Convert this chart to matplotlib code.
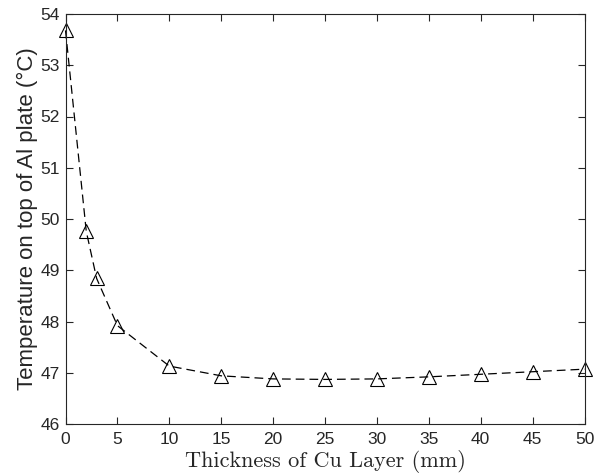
import matplotlib.pyplot as plt
plt.switch_backend('agg')

import numpy as np

# Cu layer thickness (mm) and resulting plate-top temperature (deg C)
thickness = [0, 2, 3, 5, 10, 15, 20, 25, 30, 35, 40, 45, 50]
temperature = [53.68, 49.76, 48.84, 47.92, 47.13, 46.94, 46.88,
               46.87, 46.88, 46.92, 46.97, 47.02, 47.07]

x_ticks = list(range(0, 51, 5))
y_ticks = list(range(46, 55))

axis_color = '#262626'

fig = plt.figure(figsize=(6.03, 4.76), dpi=100)
ax = fig.add_axes([65.5 / 603, 52 / 476, 519 / 603, 410 / 476])

ax.plot(thickness, temperature, 'k--', lw=0.9, dashes=(7, 4),
        marker='^', markersize=10.5, markerfacecolor='none',
        markeredgecolor='k', markeredgewidth=0.8, clip_on=False)

ax.set_xlim(0, 50)
ax.set_ylim(46, 54)
ax.set_xticks(x_ticks)
ax.set_yticks(y_ticks)

for side in ax.spines.values():
    side.set_color(axis_color)
    side.set_linewidth(0.8)
ax.tick_params(direction='in', top=True, right=True, length=5,
               width=0.8, colors=axis_color, labelsize=12.5,
               labelcolor=axis_color, pad=4)
ax.tick_params(axis='x', pad=6)
for lab in ax.get_xticklabels() + ax.get_yticklabels():
    lab.set_family(['Liberation Sans', 'DejaVu Sans'])

ax.set_xlabel('Thickness of Cu Layer (mm)', family='cmr10', fontsize=16,
              color=axis_color, labelpad=2)
ax.set_ylabel('Temperature on top of Al plate (\u00b0C)',
              family=['Liberation Sans', 'DejaVu Sans'], fontsize=16,
              color=axis_color, labelpad=2)

plt.savefig('out.png', dpi=100)
